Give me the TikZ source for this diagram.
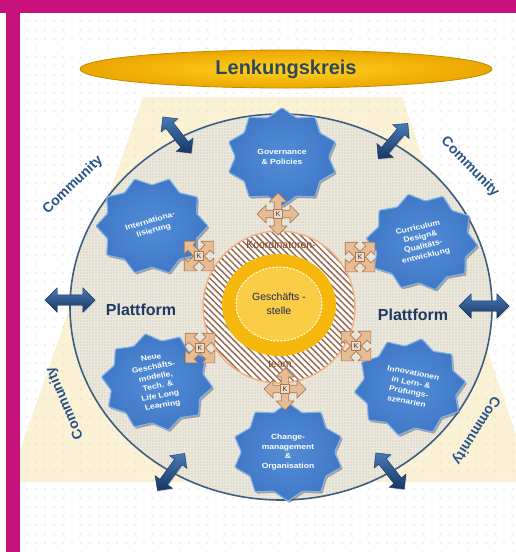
\documentclass[tikz,border=0pt]{standalone}
\usepackage{fontspec}
\setmainfont{Liberation Sans}
\usetikzlibrary{shapes.geometric,shapes.arrows,patterns.meta,shadows}

\definecolor{framemag}{RGB}{198,18,122}
\definecolor{cream}{RGB}{251,242,214}
\definecolor{discfill}{RGB}{236,233,220}
\definecolor{rim}{RGB}{62,94,128}
\definecolor{navy}{RGB}{31,56,100}
\definecolor{commblue}{RGB}{42,82,138}
\definecolor{starin}{RGB}{82,140,214}
\definecolor{starout}{RGB}{64,120,198}
\definecolor{starrim}{RGB}{130,178,232}
\definecolor{goldring}{RGB}{246,184,12}
\definecolor{goldlight}{RGB}{251,205,70}
\definecolor{hatchcol}{RGB}{150,110,85}
\definecolor{peach}{RGB}{244,178,131}
\definecolor{tanfill}{RGB}{230,188,148}
\definecolor{tanedge}{RGB}{170,120,80}
\definecolor{brownlabel}{RGB}{130,62,25}
\definecolor{arrowlight}{RGB}{72,122,182}
\definecolor{arrowdark}{RGB}{22,55,100}
\definecolor{lkyellow}{RGB}{255,210,30}
\definecolor{lkorange}{RGB}{236,166,0}
\definecolor{lkedge}{RGB}{190,140,0}
\definecolor{lktext}{RGB}{46,70,96}

\tikzset{
  starbox/.style={star, star points=10, star point ratio=1.2,
    minimum size=112pt, inner sep=0pt, rounded corners=1pt,
    inner color=starin, outer color=starout,
    draw=starrim, line width=1.1pt,
    drop shadow={shadow xshift=1.5pt, shadow yshift=-1.8pt, opacity=0.45, fill=black!70},
    text=white, align=center,
    font=\bfseries\fontsize{8.5}{11}\selectfont},
  bluearrow/.style={double arrow, double arrow head extend=7pt,
    minimum height=50pt, minimum width=0pt, inner xsep=0pt, inner ysep=5pt,
    top color=arrowlight, bottom color=arrowdark,
    draw=arrowdark, line width=0.4pt,
    drop shadow={shadow xshift=1pt, shadow yshift=-1pt, opacity=0.3}},
  diagarrow/.style={bluearrow, minimum height=46pt, inner ysep=4.5pt,
    double arrow head extend=6pt},
  commlabel/.style={text=commblue, font=\bfseries\fontsize{14}{14}\selectfont},
  platlabel/.style={text=navy, font=\bfseries\fontsize{16}{16}\selectfont},
  corelabel/.style={text=brownlabel, font=\fontsize{10.5}{12}\selectfont},
  kbox/.style={draw=tanedge, line width=0.6pt, fill=tanfill!55!white,
    minimum size=9pt, inner sep=0pt, text=navy,
    font=\fontsize{7}{7}\selectfont},
  kcross/.pic={
    \path[fill=tanfill, draw=tanedge, line width=0.7pt, line join=round]
      (12,3.8) -- (12,9) -- (21,0) -- (12,-9) -- (12,-3.8)
      -- (3.8,-3.8) -- (3.8,-12) -- (9,-12) -- (0,-21) -- (-9,-12)
      -- (-3.8,-12) -- (-3.8,-3.8) -- (-12,-3.8) -- (-12,-9) -- (-21,0)
      -- (-12,9) -- (-12,3.8) -- (-3.8,3.8) -- (-3.8,12) -- (-9,12)
      -- (0,21) -- (9,12) -- (3.8,12) -- (3.8,3.8) -- cycle;
    \node[kbox] (-k) at (0,0) {K};
  }
}

\begin{document}
\begin{tikzpicture}[x=1pt,y=-1pt]
\useasboundingbox (0,0) rectangle (516,552);

% frame
\fill[white] (0,0) rectangle (516,552);
\fill[framemag] (0,0) rectangle (516,13);
\fill[framemag] (6,0) rectangle (20,552);
\fill[white] (20,13) rectangle (516,552);

% cream trapezoid and dotted ground
\begin{scope}
  \clip (20,13) rectangle (516,552);
  \fill[cream] (143,97) -- (402,97) -- (532,482) -- (9,482) -- cycle;
  \fill[pattern={Dots[distance=9pt, radius=0.65pt]}, pattern color=gray!45]
    (20,13) rectangle (516,552);
\end{scope}

% steering committee banner
\node[ellipse, minimum width=412pt, minimum height=38pt, inner sep=0pt,
      inner color=lkyellow, outer color=lkorange, draw=lkedge, line width=0.8pt,
      text=lktext, font=\bfseries\fontsize{20}{20}\selectfont]
  (lk) at (286,69) {Lenkungskreis};

% platform disc
\fill[discfill] (281,307) ellipse [x radius=211, y radius=193];
\fill[pattern={Dots[distance=3pt, radius=0.6pt]}, pattern color=gray!55]
  (281,307) ellipse [x radius=211, y radius=193];
\draw[rim, line width=1.6pt] (281,307) ellipse [x radius=211, y radius=193];

% exchange arrows across the rim
\node[bluearrow] (aw) at (70,300) {};
\node[bluearrow] (ae) at (484,306) {};
\node[diagarrow, rotate=-52] (anw) at (177,135) {};
\node[diagarrow, rotate=50] (ane) at (393,141) {};
\node[diagarrow, rotate=54] (asw) at (171,472) {};
\node[diagarrow, rotate=-52] (ase) at (390,471) {};

% community labels
\node[commlabel, rotate=44] (cnw) at (73,185) {Community};
\node[commlabel, rotate=-46] (cne) at (470,167) {Community};
\node[commlabel, rotate=113] (csw) at (65,403) {Community};
\node[commlabel, rotate=-122] (cse) at (476,430) {Community};

% platform labels
\node[platlabel] (plw) at (141,310) {Plattform};
\node[platlabel] (ple) at (413,315) {Plattform};

% core: coordination team and office
\fill[white] (279,307) circle [radius=76];
\fill[pattern={Lines[angle=-45, distance=4.5pt, line width=1.5pt]}, pattern color=hatchcol]
  (279,307) circle [radius=76];
\draw[peach, line width=1.5pt] (279,307) circle [radius=76];
\fill[goldring] (279,305) ellipse [x radius=57, y radius=51];
\fill[goldlight] (279,304) ellipse [x radius=43, y radius=37];
\draw[white, line width=1pt, dash pattern=on 2pt off 1.5pt]
  (279,304) ellipse [x radius=43, y radius=37];
\node[corelabel] (koord) at (281,245) {Koordinatoren-};
\node[corelabel] (team) at (280,364) {team};
\node[align=center, text={rgb,255:red,30;green,40;blue,80},
      font=\fontsize{10.5}{14}\selectfont] (gs) at (279,304) {Geschäfts -\\stelle};

% fields of action
\node[starbox, yscale=0.88, transform shape] (gov) at (282,157)
  {Governance\\\& Policies};
\node[starbox, yscale=0.88, rotate=18, transform shape] (intl) at (152,226)
  {Internationa-\\lisierung};
\node[starbox, yscale=0.88, rotate=14, transform shape] (curr) at (422,242)
  {Curriculum\\Design\&\\Qualitäts-\\entwicklung};
\node[starbox, yscale=0.88, rotate=12, transform shape] (neue) at (157,382)
  {Neue\\Geschäfts-\\modelle,\\Tech. \&\\Life Long\\Learning};
\node[starbox, yscale=0.88, rotate=-12, transform shape] (innov) at (410,387)
  {Innovationen\\in Lern- \&\\Prüfungs-\\szenarien};
\node[starbox, yscale=0.88, transform shape] (chg) at (288,452)
  {Change-\\management\\\&\\Organisation};

% coordinator links
\pic (kn) at (278,214) {kcross};
\pic[rotate=45] (knw) at (199,256) {kcross};
\pic[rotate=45] (kne) at (360,257) {kcross};
\pic[rotate=45] (ksw) at (200,348) {kcross};
\pic[rotate=45] (kse) at (356,346) {kcross};
\pic (ks) at (285,389) {kcross};
\end{tikzpicture}
\end{document}
